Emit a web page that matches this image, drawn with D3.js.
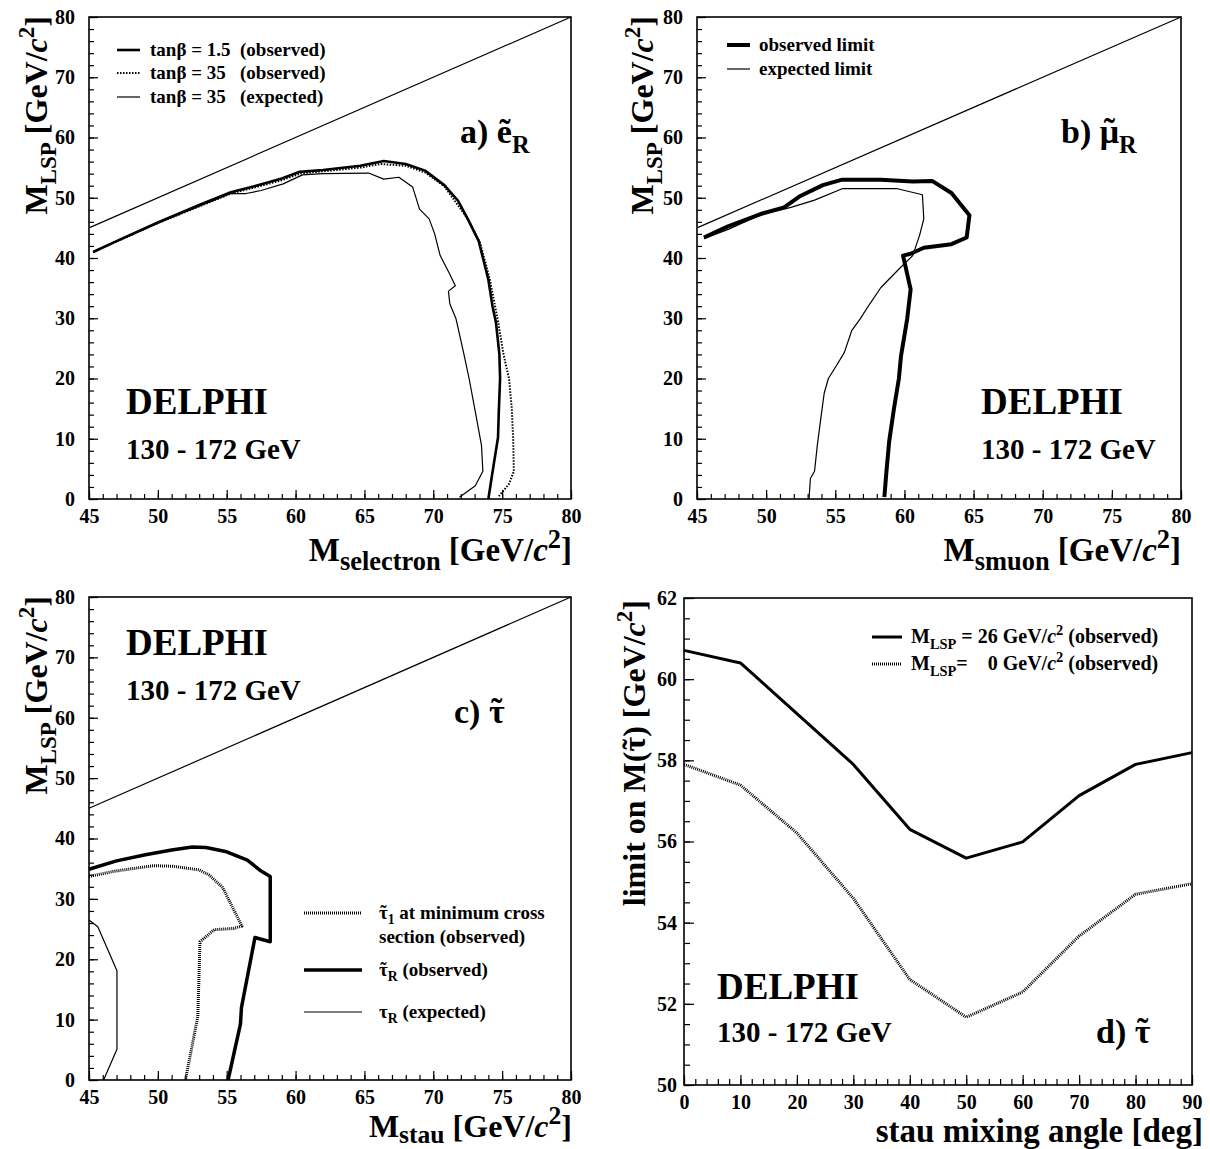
<!DOCTYPE html>
<html>
<head>
<meta charset="utf-8">
<script src="https://cdn.jsdelivr.net/npm/d3@7"></script>
<style>
  body { margin: 0; background: #fff; }
  svg text { font-family: "Liberation Serif", "Times New Roman", serif; font-weight: bold; fill: #000; white-space: pre; }
</style>
</head>
<body>
<svg id="chart" width="1210" height="1149"></svg>
<script>
// tick labels
const massTicks = [45, 50, 55, 60, 65, 70, 75, 80];
const lspTicks = [0, 10, 20, 30, 40, 50, 60, 70, 80];
const angleTicks = [0, 10, 20, 30, 40, 50, 60, 70, 80, 90];
const limitTicks = [50, 52, 54, 56, 58, 60, 62];

// kinematic limit M_LSP = M_slepton
const kinLimit = [[45, 45], [80, 80]];

// a) selectron exclusion contours [M_selectron, M_LSP]
const selTan15Obs = [[45.3, 41.0], [47, 42.8], [50, 45.9], [53, 48.8], [55.3, 50.9], [57, 51.9], [59, 53.2], [60.3, 54.3], [62, 54.6], [64.7, 55.3], [66.4, 56.1], [68, 55.6], [69.4, 54.5], [70.8, 52.1], [71.8, 49.5], [72.5, 46.5], [73.3, 42.8], [74.0, 36.4], [74.3, 32], [74.55, 29.3], [74.8, 24], [74.85, 20], [74.75, 14], [74.7, 10.2], [74.4, 5.9], [74.2, 3], [74.0, 0]];
const selTan35Obs = [[45.3, 41.0], [50, 45.8], [55.3, 50.7], [57, 51.7], [59, 52.9], [60.3, 54.0], [62, 54.4], [64.7, 55.0], [66.2, 55.6], [68, 55.3], [69.4, 54.2], [70.8, 51.9], [72.5, 46.5], [73.4, 42.5], [74.1, 36.5], [74.7, 29.5], [75.1, 24], [75.5, 20], [75.7, 15], [75.8, 10], [75.85, 4.6], [75.5, 2.5], [74.7, 0.3]];
const selTan35Exp = [[45.3, 41.0], [50, 45.8], [55.3, 50.7], [56.4, 50.7], [57.5, 51.2], [59.1, 52.3], [60.5, 53.8], [62, 54.0], [65.3, 54.1], [66.4, 53.1], [67.5, 53.4], [68.5, 51.8], [69.0, 48.1], [69.7, 46.5], [70.1, 44], [70.5, 40.4], [71.2, 37.3], [71.6, 35.4], [71.1, 34.5], [71.2, 32.4], [71.65, 29.9], [72.2, 24.3], [72.6, 20.0], [73.05, 14.5], [73.5, 8.9], [73.6, 4.6], [73.05, 2.2], [71.9, 0.3]];

// b) smuon
const smuObs = [[45.5, 43.4], [47.2, 45.2], [49.6, 47.3], [51.3, 48.4], [52.4, 50.2], [54.1, 52.1], [55.5, 53.0], [58.3, 53.0], [60.6, 52.7], [62.0, 52.8], [63.4, 50.8], [64.7, 47.1], [64.5, 43.4], [63.4, 42.3], [61.4, 41.7], [60.45, 40.7], [59.9, 40.4], [60.45, 34.8], [60.2, 29.9], [59.75, 23.7], [59.6, 20.0], [59.25, 15.1], [58.9, 9.6], [58.7, 4.6], [58.55, 0.3]];
const smuExp = [[45.5, 43.2], [47.3, 44.8], [49.6, 47.2], [51.8, 48.4], [53.5, 49.6], [55.5, 51.5], [59.5, 51.5], [61.3, 50.5], [61.4, 46.5], [61.1, 43.8], [60.6, 40.4], [59.75, 38.5], [58.3, 35.1], [57.5, 32.4], [56.8, 29.9], [56.2, 28.0], [55.65, 24.3], [55.1, 22.2], [54.5, 20.0], [54.2, 17.6], [53.95, 13.3], [53.7, 8.9], [53.5, 4.6], [53.2, 3.4], [53.1, 0]];

// c) stau
const stau1MinObs = [[45, 33.7], [46.9, 34.6], [49.7, 35.5], [51.1, 35.4], [53.0, 34.8], [53.7, 34.0], [54.7, 31.9], [56.1, 25.5], [55.5, 25.1], [54.1, 24.9], [53.06, 22.9], [52.9, 10.5], [52.0, 0]];
const stauRObs = [[45, 34.9], [47, 36.3], [49.1, 37.3], [51, 38.1], [52.5, 38.6], [53.5, 38.5], [55, 37.8], [56.5, 36.4], [57.5, 34.6], [58.16, 33.7], [58.16, 22.9], [57.05, 23.6], [56.07, 12.0], [56.0, 9.3], [55.1, 0]];
const stauRExp = [[45, 26.5], [45.64, 25.4], [47.03, 18.1], [47.03, 5.1], [46.06, 0]];

// d) limit on stau mass vs mixing angle
const mixAngles = [0, 10, 20, 30, 40, 50, 60, 70, 80, 90];
const limitLsp26 = [60.71, 60.40, 59.15, 57.9, 56.3, 55.59, 55.99, 57.13, 57.9, 58.19];
const limitLsp0 = [57.9, 57.39, 56.21, 54.6, 52.6, 51.67, 52.29, 53.67, 54.7, 54.96];

const svg = d3.select("#chart");

// text with sub/superscripts; parts are strings or [str, kind]
// kind: "sub", "sup", "it", "tilde" (letter with a tilde drawn above it)
function richText(parent, parts, size, o) {
  const t = parent.append("text")
    .style("font-size", size + "px")
    .attr("x", o.x || 0)
    .attr("y", o.y || 0)
    .attr("text-anchor", o.anchor || "start");
  if (o.transform) t.attr("transform", o.transform);
  const sub = o.sub || 0.72;
  const subShift = o.subShift || 0.28;
  let off = 0;
  let idx = 0;
  const tildes = [];
  parts.forEach((p) => {
    const [str, kind] = typeof p === "string" ? [p, "n"] : p;
    const target = kind === "sub" ? size * subShift : kind === "sup" ? -size * 0.4 : 0;
    const ts = t.append("tspan").attr("dy", target - off).text(str);
    off = target;
    if (kind === "sub" || kind === "sup") ts.style("font-size", size * sub + "px");
    if (kind === "it") ts.style("font-style", "italic");
    if (kind === "tilde") tildes.push(idx);
    idx += str.length;
  });
  const n = t.node();
  tildes.forEach((i) => {
    const s = n.getStartPositionOfChar(i);
    const e = n.getEndPositionOfChar(i);
    t.append("tspan")
      .attr("x", (s.x + e.x) / 2)
      .attr("y", s.y - size * 0.04)
      .style("text-anchor", "middle")
      .text("\u02DC");
  });
  return t;
}

function makePanel(cfg) {
  const w = cfg.x1 - cfg.x0;
  const h = cfg.y1 - cfg.y0;
  const g = svg.append("g").attr("transform", `translate(${cfg.x0},${cfg.y0})`);
  const x = d3.scaleLinear().domain(cfg.xd).range([0, w]);
  const y = d3.scaleLinear().domain(cfg.yd).range([h, 0]);

  // minor ticks
  g.append("g")
    .attr("transform", `translate(0,${h})`)
    .call(d3.axisBottom(x).tickValues(d3.range(cfg.xd[0], cfg.xd[1] + 1e-9, cfg.xMinor)).tickSize(-cfg.minor).tickFormat(""))
    .call((a) => a.select(".domain").remove());
  g.append("g")
    .call(d3.axisLeft(y).tickValues(d3.range(cfg.yd[0], cfg.yd[1] + 1e-9, cfg.yMinor)).tickSize(-cfg.minor).tickFormat(""))
    .call((a) => a.select(".domain").remove());

  // major ticks + labels
  const xa = g.append("g")
    .attr("transform", `translate(0,${h})`)
    .call(d3.axisBottom(x).tickValues(cfg.xTicks).tickSize(-cfg.major).tickPadding(cfg.xPad))
    .call((a) => a.select(".domain").remove());
  const ya = g.append("g")
    .call(d3.axisLeft(y).tickValues(cfg.yTicks).tickSize(-cfg.major).tickPadding(cfg.yPad))
    .call((a) => a.select(".domain").remove());
  [xa, ya].forEach((a) => {
    a.selectAll("text").style("font-size", "20px").attr("fill", "#000")
      .style("font-family", '"Liberation Serif", serif').style("font-weight", "bold");
  });
  g.selectAll("line").attr("stroke", "#000").attr("stroke-width", 1.2);

  g.append("rect")
    .attr("width", w).attr("height", h)
    .attr("fill", "none").attr("stroke", "#000").attr("stroke-width", 1.6);

  return { g, x, y, w, h };
}

function drawLine(p, data, width, dash) {
  const line = d3.line().x((d) => p.x(d[0])).y((d) => p.y(d[1]));
  p.g.append("path")
    .datum(data)
    .attr("d", line)
    .attr("fill", "none")
    .attr("stroke", "#000")
    .attr("stroke-width", width)
    .attr("stroke-linejoin", "round")
    .attr("stroke-dasharray", dash || null);
}

function legendItem(x1, x2, y, width, dash) {
  svg.append("line")
    .attr("x1", x1).attr("x2", x2).attr("y1", y).attr("y2", y)
    .attr("stroke", "#000").attr("stroke-width", width)
    .attr("stroke-dasharray", dash || null);
}

function label(px, py, str, size) {
  svg.append("text").attr("x", px).attr("y", py).style("font-size", size + "px").text(str);
}

function yTitle(px, py, parts) {
  richText(svg, parts, 32, { transform: `translate(${px},${py}) rotate(-90)`, anchor: "end" });
}

function xTitle(px, py, parts, size, shift) {
  richText(svg, parts, size || 33, { x: px, y: py, anchor: "end", sub: 0.8, subShift: shift });
}

function delphi(px, py, gap) {
  label(px, py, "DELPHI", 37);
  label(px, py + gap, "130 - 172 GeV", 29);
}

const massPanel = { xd: [45, 80], yd: [0, 80], xTicks: massTicks, yTicks: lspTicks, xMinor: 1, yMinor: 2, major: 9, minor: 5, xPad: 10, yPad: 14 };
const lspTitle = ["M", ["LSP", "sub"], " [GeV/", ["c", "it"], ["2", "sup"], "]"];
const massTitle = (name) => ["M", [name, "sub"], " [GeV/", ["c", "it"], ["2", "sup"], "]"];

// ---------- a) selectron
const pa = makePanel({ ...massPanel, x0: 89, x1: 571, y0: 17, y1: 499 });
drawLine(pa, kinLimit, 1.2);
drawLine(pa, selTan35Exp, 1.2);
drawLine(pa, selTan35Obs, 2, "1.5,1.5");
drawLine(pa, selTan15Obs, 2.6);
legendItem(117, 140, 50, 2.6);
legendItem(117, 140, 73, 2, "1.5,1.5");
legendItem(117, 140, 97, 1.2);
label(150, 56, "tan\u03B2 = 1.5  (observed)", 19);
label(150, 79, "tan\u03B2 = 35   (observed)", 19);
label(150, 103, "tan\u03B2 = 35   (expected)", 19);
richText(svg, ["a) \u1EBD", ["R", "sub"]], 34, { x: 460, y: 143 });
delphi(126, 414, 45);
yTitle(47, 16, lspTitle);
xTitle(572, 561, massTitle("selectron"));

// ---------- b) smuon
const pb = makePanel({ ...massPanel, x0: 697, x1: 1181, y0: 17, y1: 499 });
drawLine(pb, kinLimit, 1.2);
drawLine(pb, smuExp, 1.2);
drawLine(pb, smuObs, 4);
legendItem(727, 750, 45, 4);
legendItem(727, 750, 69, 1.2);
label(759, 51, "observed limit", 19);
label(759, 75, "expected limit", 19);
richText(svg, ["b) ", ["\u03BC", "tilde"], ["R", "sub"]], 34, { x: 1061, y: 143 });
delphi(981, 414, 45);
yTitle(653, 16, lspTitle);
xTitle(1181, 561, massTitle("smuon"));

// ---------- c) stau
const pc = makePanel({ ...massPanel, x0: 89, x1: 571, y0: 597, y1: 1080 });
drawLine(pc, kinLimit, 1.2);
drawLine(pc, stauRExp, 1.2);
drawLine(pc, stau1MinObs, 3, "1,1");
drawLine(pc, stauRObs, 3.5);
legendItem(304, 362, 913, 3, "1,1");
legendItem(304, 362, 970, 3.5);
legendItem(304, 362, 1012, 1.2);
richText(svg, [["\u03C4", "tilde"], ["1", "sub"], " at minimum cross"], 19, { x: 379, y: 919 });
label(379, 943, "section (observed)", 19);
richText(svg, [["\u03C4", "tilde"], ["R", "sub"], " (observed)"], 19, { x: 379, y: 976 });
richText(svg, ["\u03C4", ["R", "sub"], " (expected)"], 19, { x: 379, y: 1018 });
richText(svg, ["c) ", ["\u03C4", "tilde"]], 34, { x: 454, y: 723 });
delphi(126, 655, 45);
yTitle(47, 596, lspTitle);
xTitle(572, 1137, massTitle("stau"), 32, 0.2);

// ---------- d) mixing angle
const pd = makePanel({
  x0: 684, x1: 1192, y0: 598, y1: 1085,
  xd: [0, 90], yd: [50, 62], xTicks: angleTicks, yTicks: limitTicks,
  xMinor: 2, yMinor: 0.5, major: 10, minor: 6, xPad: 10, yPad: 7,
});
drawLine(pd, mixAngles.map((a, i) => [a, limitLsp0[i]]), 3, "1,1");
drawLine(pd, mixAngles.map((a, i) => [a, limitLsp26[i]]), 3);
legendItem(872, 902, 637, 3);
legendItem(872, 902, 664, 3, "1,1");
richText(svg, ["M", ["LSP", "sub"], " = 26 GeV/", ["c", "it"], ["2", "sup"], " (observed)"], 20, { x: 911, y: 643 });
richText(svg, ["M", ["LSP", "sub"], "=    0 GeV/", ["c", "it"], ["2", "sup"], " (observed)"], 20, { x: 911, y: 670 });
richText(svg, ["d) ", ["\u03C4", "tilde"]], 34, { x: 1096, y: 1043 });
delphi(717, 999, 43);
yTitle(645, 600, ["limit on M(", ["\u03C4", "tilde"], ") [GeV/", ["c", "it"], ["2", "sup"], "]"]);
xTitle(1203, 1142, ["stau mixing angle [deg]"]);
</script>
</body>
</html>
